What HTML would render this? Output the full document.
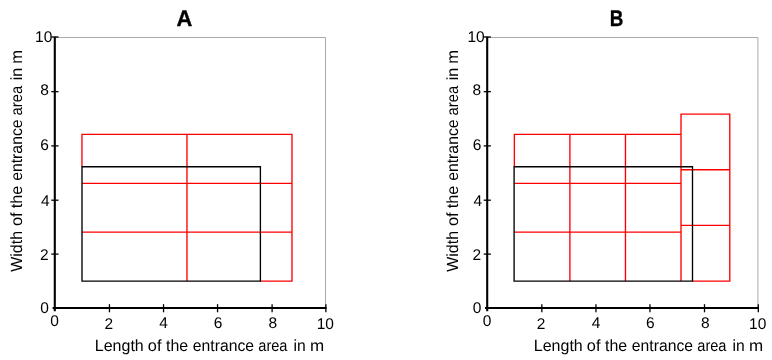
<!DOCTYPE html>
<html><head><meta charset="utf-8"><style>
html,body{margin:0;padding:0;background:#fff;}
body{width:772px;height:360px;overflow:hidden;}
svg{display:block;will-change:transform;text-rendering:geometricPrecision;font-family:"Liberation Sans",sans-serif;}
</style></head><body>
<svg width="772" height="360" viewBox="0 0 772 360" fill="#000">
<path d="M54.85 37.5H325.50V308" fill="none" stroke="#aaa" stroke-width="1"/>
<path d="M260.13 281.05H292.65M81.95 232.18H292.65M81.95 183.31H292.65M81.28 134.44H292.65M81.95 166.75V133.77M186.96 281.05V133.77M291.98 281.73V133.77" fill="none" stroke="#f00" stroke-width="1.35"/>
<path d="M82.00 166.70H260.40V281.10H82.00Z" fill="none" stroke="#000" stroke-width="1.35"/>
<path d="M54.80 36.8V311.3" stroke="#000" stroke-width="2.1"/>
<path d="M52.60 308H326.50" stroke="#000" stroke-width="2.0"/>
<path d="M51.30 37.00H58.50" stroke="#000" stroke-width="1.3"/>
<path d="M51.30 91.65H58.50" stroke="#000" stroke-width="1.3"/>
<path d="M51.30 145.90H58.50" stroke="#000" stroke-width="1.3"/>
<path d="M51.30 200.20H58.50" stroke="#000" stroke-width="1.3"/>
<path d="M51.30 254.10H58.50" stroke="#000" stroke-width="1.3"/>
<path d="M109.45 304.2V312.3" stroke="#000" stroke-width="1.3"/>
<path d="M163.55 304.2V312.3" stroke="#000" stroke-width="1.3"/>
<path d="M217.55 304.2V312.3" stroke="#000" stroke-width="1.3"/>
<path d="M272.10 304.2V312.3" stroke="#000" stroke-width="1.3"/>
<path d="M325.90 304.2V312.3" stroke="#000" stroke-width="1.3"/>
<text x="44.65" y="312.75" text-anchor="middle" font-size="15.5">0</text>
<text x="54.65" y="326.05" text-anchor="middle" font-size="15.5">0</text>
<text x="44.40" y="259.95" text-anchor="middle" font-size="15.5">2</text>
<text x="108.75" y="328.75" text-anchor="middle" font-size="15.5">2</text>
<text x="45.30" y="206.35" text-anchor="middle" font-size="15.5">4</text>
<text x="163.55" y="328.15" text-anchor="middle" font-size="15.5">4</text>
<text x="44.55" y="150.15" text-anchor="middle" font-size="15.5">6</text>
<text x="217.95" y="328.15" text-anchor="middle" font-size="15.5">6</text>
<text x="44.50" y="94.85" text-anchor="middle" font-size="15.5">8</text>
<text x="272.80" y="328.05" text-anchor="middle" font-size="15.5">8</text>
<text x="43.70" y="41.55" text-anchor="middle" font-size="15.5">10</text>
<text x="325.25" y="328.50" text-anchor="middle" font-size="15.5">10</text>
<text x="176.55" y="25.5" font-size="22.5" font-weight="bold" stroke="#000" stroke-width="0.35" textLength="15.82" lengthAdjust="spacingAndGlyphs">A</text>
<text x="94.79" y="350.7" font-size="16.2" textLength="48.95" lengthAdjust="spacingAndGlyphs">Length</text>
<text x="147.81" y="350.7" font-size="16.2" textLength="13.66" lengthAdjust="spacingAndGlyphs">of</text>
<text x="166.06" y="350.7" font-size="16.2" textLength="22.15" lengthAdjust="spacingAndGlyphs">the</text>
<text x="192.83" y="350.7" font-size="16.2" textLength="61.17" lengthAdjust="spacingAndGlyphs">entrance</text>
<text x="258.28" y="350.7" font-size="16.2" textLength="29.22" lengthAdjust="spacingAndGlyphs">area</text>
<text x="293.50" y="350.7" font-size="16.2" textLength="12.22" lengthAdjust="spacingAndGlyphs">in</text>
<text x="309.92" y="350.7" font-size="16.2" textLength="14.15" lengthAdjust="spacingAndGlyphs">m</text>
<text transform="translate(22.30 272.00) rotate(-90)" x="0.23" y="0" font-size="16.2" textLength="40.81" lengthAdjust="spacingAndGlyphs">Width</text>
<text transform="translate(22.30 225.70) rotate(-90)" x="-0.39" y="0" font-size="16.2" textLength="13.66" lengthAdjust="spacingAndGlyphs">of</text>
<text transform="translate(22.30 208.30) rotate(-90)" x="0.05" y="0" font-size="16.2" textLength="22.67" lengthAdjust="spacingAndGlyphs">the</text>
<text transform="translate(22.30 180.50) rotate(-90)" x="-0.37" y="0" font-size="16.2" textLength="61.47" lengthAdjust="spacingAndGlyphs">entrance</text>
<text transform="translate(22.30 115.10) rotate(-90)" x="-0.33" y="0" font-size="16.2" textLength="29.53" lengthAdjust="spacingAndGlyphs">area</text>
<text transform="translate(22.30 79.50) rotate(-90)" x="-0.78" y="0" font-size="16.2" textLength="12.52" lengthAdjust="spacingAndGlyphs">in</text>
<text transform="translate(22.30 62.95) rotate(-90)" x="-0.79" y="0" font-size="16.2" textLength="13.73" lengthAdjust="spacingAndGlyphs">m</text>
<path d="M487.25 37.5H757.90V308" fill="none" stroke="#aaa" stroke-width="1"/>
<path d="M692.53 281.05H730.47M514.35 232.18H681.69M514.35 183.31H681.69M513.68 134.44H681.69M680.34 225.39H730.47M680.34 169.74H730.47M680.34 114.08H730.47M514.35 166.75V133.77M569.90 281.05V133.77M625.46 281.05V133.77M681.01 281.05V113.40M729.79 281.73V113.40" fill="none" stroke="#f00" stroke-width="1.35"/>
<path d="M514.10 166.70H692.50V281.10H514.10Z" fill="none" stroke="#000" stroke-width="1.35"/>
<path d="M487.20 36.8V311.3" stroke="#000" stroke-width="2.1"/>
<path d="M485.00 308H758.90" stroke="#000" stroke-width="2.0"/>
<path d="M483.70 37.00H490.90" stroke="#000" stroke-width="1.3"/>
<path d="M483.70 91.65H490.90" stroke="#000" stroke-width="1.3"/>
<path d="M483.70 145.90H490.90" stroke="#000" stroke-width="1.3"/>
<path d="M483.70 200.20H490.90" stroke="#000" stroke-width="1.3"/>
<path d="M483.70 254.10H490.90" stroke="#000" stroke-width="1.3"/>
<path d="M541.85 304.2V312.3" stroke="#000" stroke-width="1.3"/>
<path d="M595.95 304.2V312.3" stroke="#000" stroke-width="1.3"/>
<path d="M649.95 304.2V312.3" stroke="#000" stroke-width="1.3"/>
<path d="M704.50 304.2V312.3" stroke="#000" stroke-width="1.3"/>
<path d="M758.30 304.2V312.3" stroke="#000" stroke-width="1.3"/>
<text x="477.05" y="312.75" text-anchor="middle" font-size="15.5">0</text>
<text x="487.05" y="326.05" text-anchor="middle" font-size="15.5">0</text>
<text x="476.80" y="259.95" text-anchor="middle" font-size="15.5">2</text>
<text x="541.15" y="328.75" text-anchor="middle" font-size="15.5">2</text>
<text x="477.70" y="206.35" text-anchor="middle" font-size="15.5">4</text>
<text x="595.95" y="328.15" text-anchor="middle" font-size="15.5">4</text>
<text x="476.95" y="150.15" text-anchor="middle" font-size="15.5">6</text>
<text x="650.35" y="328.15" text-anchor="middle" font-size="15.5">6</text>
<text x="476.90" y="94.85" text-anchor="middle" font-size="15.5">8</text>
<text x="705.20" y="328.05" text-anchor="middle" font-size="15.5">8</text>
<text x="476.10" y="41.55" text-anchor="middle" font-size="15.5">10</text>
<text x="757.65" y="328.50" text-anchor="middle" font-size="15.5">10</text>
<text x="609.84" y="25.5" font-size="22.5" font-weight="bold" stroke="#000" stroke-width="0.35" textLength="13.62" lengthAdjust="spacingAndGlyphs">B</text>
<text x="533.79" y="350.7" font-size="16.2" textLength="48.95" lengthAdjust="spacingAndGlyphs">Length</text>
<text x="586.81" y="350.7" font-size="16.2" textLength="13.66" lengthAdjust="spacingAndGlyphs">of</text>
<text x="605.06" y="350.7" font-size="16.2" textLength="22.15" lengthAdjust="spacingAndGlyphs">the</text>
<text x="631.83" y="350.7" font-size="16.2" textLength="61.17" lengthAdjust="spacingAndGlyphs">entrance</text>
<text x="697.28" y="350.7" font-size="16.2" textLength="29.22" lengthAdjust="spacingAndGlyphs">area</text>
<text x="732.50" y="350.7" font-size="16.2" textLength="12.22" lengthAdjust="spacingAndGlyphs">in</text>
<text x="748.92" y="350.7" font-size="16.2" textLength="14.15" lengthAdjust="spacingAndGlyphs">m</text>
<text transform="translate(458.30 272.00) rotate(-90)" x="0.23" y="0" font-size="16.2" textLength="40.81" lengthAdjust="spacingAndGlyphs">Width</text>
<text transform="translate(458.30 225.70) rotate(-90)" x="-0.39" y="0" font-size="16.2" textLength="13.66" lengthAdjust="spacingAndGlyphs">of</text>
<text transform="translate(458.30 208.30) rotate(-90)" x="0.05" y="0" font-size="16.2" textLength="22.67" lengthAdjust="spacingAndGlyphs">the</text>
<text transform="translate(458.30 180.50) rotate(-90)" x="-0.37" y="0" font-size="16.2" textLength="61.47" lengthAdjust="spacingAndGlyphs">entrance</text>
<text transform="translate(458.30 115.10) rotate(-90)" x="-0.33" y="0" font-size="16.2" textLength="29.53" lengthAdjust="spacingAndGlyphs">area</text>
<text transform="translate(458.30 79.50) rotate(-90)" x="-0.78" y="0" font-size="16.2" textLength="12.52" lengthAdjust="spacingAndGlyphs">in</text>
<text transform="translate(458.30 62.95) rotate(-90)" x="-0.79" y="0" font-size="16.2" textLength="13.73" lengthAdjust="spacingAndGlyphs">m</text>
</svg>
</body></html>
